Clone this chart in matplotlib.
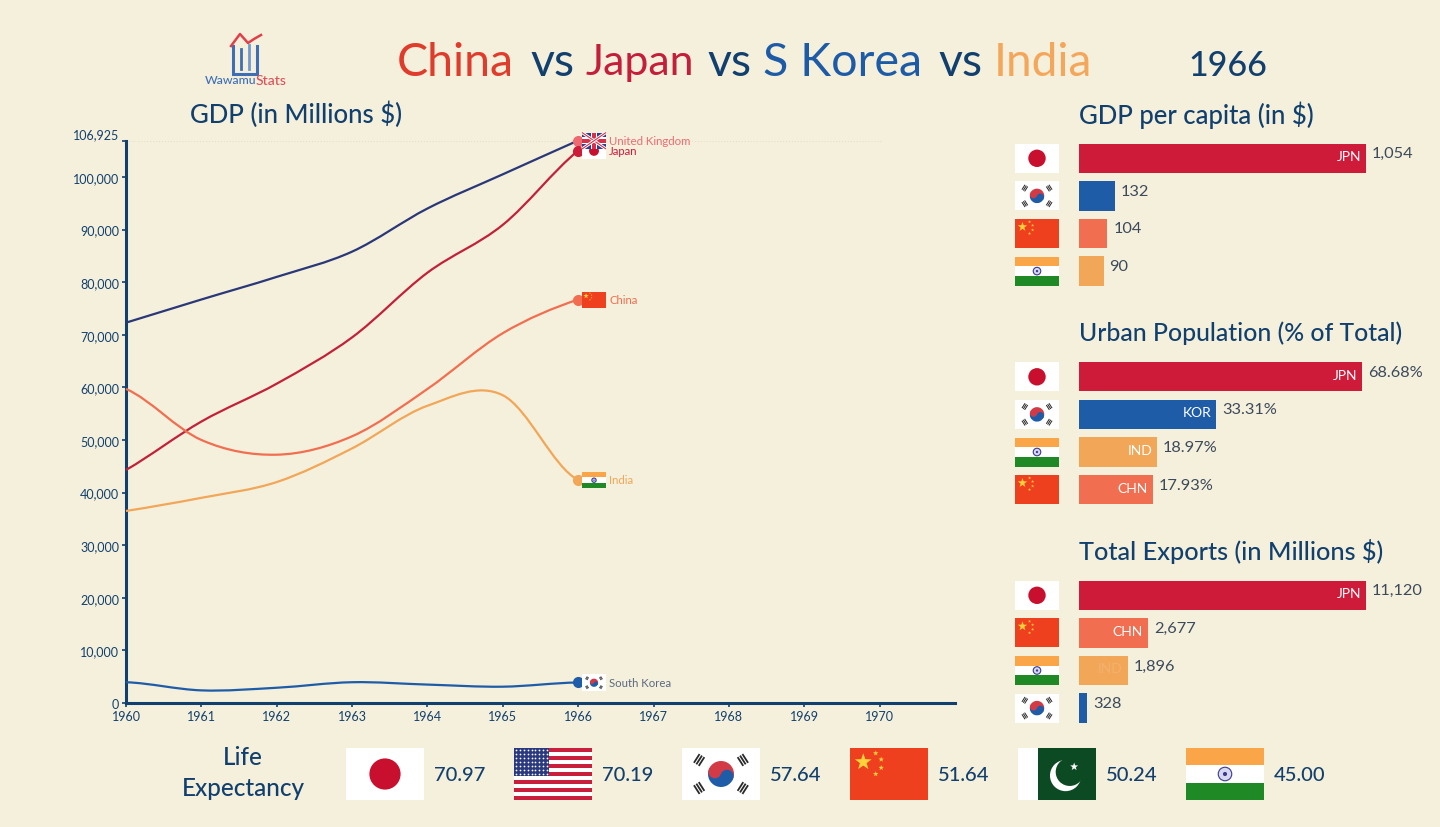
import matplotlib
matplotlib.use("Agg")
import matplotlib.pyplot as plt
from matplotlib.path import Path
from matplotlib.patches import PathPatch, Rectangle, Circle, Wedge, Polygon
import numpy as np

plt.rcParams["font.family"] = ["Lato", "DejaVu Sans"]

BG = "#F5F0DC"
NAVY = "#12406E"
TEXT = "#3C4A5C"

years = [1960, 1961, 1962, 1963, 1964, 1965, 1966]
uk_gdp = [72300, 76700, 81000, 85800, 94000, 100500, 106925]
japan_gdp = [44300, 53500, 60700, 69500, 81800, 90900, 105000]
china_gdp = [59700, 50000, 47200, 50700, 59700, 70300, 76700]
india_gdp = [36500, 39000, 42000, 48400, 56500, 58500, 42400]
korea_gdp = [3950, 2400, 2900, 3950, 3500, 3100, 3900]

x_ticks = [1960, 1961, 1962, 1963, 1964, 1965, 1966, 1967, 1968, 1969, 1970]
y_ticks = [0, 10000, 20000, 30000, 40000, 50000, 60000, 70000, 80000, 90000, 100000, 106925]

pc_codes = ["JPN", "KOR", "CHN", "IND"]
pc_vals = [1054, 132, 104, 90]
pc_text = ["1,054", "132", "104", "90"]
pc_inner = [1, 0, 0, 0]

urban_codes = ["JPN", "KOR", "IND", "CHN"]
urban_vals = [68.68, 33.31, 18.97, 17.93]
urban_text = ["68.68%", "33.31%", "18.97%", "17.93%"]
urban_inner = [1, 1, 1, 1]

exp_codes = ["JPN", "CHN", "IND", "KOR"]
exp_vals = [11120, 2677, 1896, 328]
exp_text = ["11,120", "2,677", "1,896", "328"]
exp_inner = [1, 1, 0.12, 0]

life_codes = ["JPN", "USA", "KOR", "CHN", "PAK", "IND"]
life_vals = ["70.97", "70.19", "57.64", "51.64", "50.24", "45.00"]

colors = {"JPN": "#CF1B3A", "KOR": "#1F5CA8", "CHN": "#F26E50", "IND": "#F2A658", "GBR": "#2A3778"}

fig = plt.figure(figsize=(14.4, 8.28), dpi=100, facecolor=BG)


def axes_px(left, top, right, bottom):
    return fig.add_axes([left / 1440, 1 - bottom / 828, (right - left) / 1440, (bottom - top) / 828])


# main chart
ax = axes_px(126, 141.5, 955, 704)
ax.set_facecolor("none")
ax.set_xlim(1960, 1971)
ax.set_ylim(0, 106925)


def end_slope(s, t):
    # slope at a line end, flattened when the next segment differs a lot
    if s * t <= 0:
        return 0
    return s * min(s / t, t / s)


def smooth_line(xs, ys, color):
    # bezier segments through the points
    n = len(xs)
    slopes = [0.0] * n
    for i in range(1, n - 1):
        slopes[i] = (ys[i + 1] - ys[i - 1]) / 2
    slopes[0] = end_slope(ys[1] - ys[0], slopes[1])
    slopes[-1] = end_slope(ys[-1] - ys[-2], slopes[-2])
    verts = [(xs[0], ys[0])]
    codes = [Path.MOVETO]
    for i in range(n - 1):
        verts += [(xs[i] + 1 / 3, ys[i] + slopes[i] / 3), (xs[i + 1] - 1 / 3, ys[i + 1] - slopes[i + 1] / 3),
                  (xs[i + 1], ys[i + 1])]
        codes += [Path.CURVE4, Path.CURVE4, Path.CURVE4]
    ax.add_patch(PathPatch(Path(verts, codes), fc="none", ec=color, lw=1.6, clip_on=False, zorder=3))


series = [
    (uk_gdp, colors["GBR"], "#EE6A72", "United Kingdom", "GBR"),
    (japan_gdp, "#C2213A", "#CF1B3A", "Japan", "JPN"),
    (china_gdp, colors["CHN"], colors["CHN"], "China", "CHN"),
    (india_gdp, colors["IND"], colors["IND"], "India", "IND"),
    (korea_gdp, colors["KOR"], colors["KOR"], "South Korea", "KOR"),
]
for vals, col, dot, name, code in series:
    smooth_line(years, vals, col)
    ax.plot(years[-1], vals[-1], "o", color=dot, ms=7, clip_on=False, zorder=4)
    ax.annotate(name, xy=(years[-1], vals[-1]), xytext=(31, 0), textcoords="offset pixels",
                fontsize=8.2, color=dot if code != "KOR" else "#5A6A80", va="center", zorder=6)

ax.axhline(106925, xmax=0.911, color="#E4DFC8", lw=0.8, ls=":", zorder=1)
for s in ["top", "right"]:
    ax.spines[s].set_visible(False)
for s in ["left", "bottom"]:
    ax.spines[s].set_color(NAVY)
    ax.spines[s].set_linewidth(2.2)
ax.set_xticks(x_ticks)
ax.set_yticks(y_ticks)
ax.set_yticklabels([f"{v:,}" for v in y_ticks])
ax.tick_params(axis="both", colors=NAVY, length=3, width=1.2, labelsize=9, labelcolor=NAVY, pad=2)
ax.get_yticklabels()[-1].set_va("bottom")


# bar panels
def bar_panel(top, codes, vals, texts, inner, title, title_y, title_size):
    a = axes_px(1079, top, 1440, top + 150.4)
    a.set_facecolor("none")
    a.axis("off")
    a.set_xlim(0, vals[0] * 361 / (287 if vals[0] != 68.68 else 283))
    a.set_ylim(3.5, -0.5)
    pos = np.arange(len(vals))
    a.barh(pos, vals, height=0.78, color=[colors[c] for c in codes])
    for i in pos:
        a.annotate(texts[i], xy=(vals[i], i), xytext=(6, 5), textcoords="offset pixels",
                   fontsize=11.8, color=TEXT, va="center")
        if inner[i] > 0:
            a.annotate(codes[i], xy=(vals[i], i), xytext=(-5, 2), textcoords="offset pixels", ha="right",
                       fontsize=10, color="white", alpha=inner[i], va="center")
    fig.text(1079 / 1440, 1 - title_y / 828, title, fontsize=title_size, color=NAVY, va="center", fontweight="medium")


panel_tops = [140.5, 359, 577.5]
bar_panel(panel_tops[0], pc_codes, pc_vals, pc_text, pc_inner, "GDP per capita (in $)", 115, 18.5)
bar_panel(panel_tops[1], urban_codes, urban_vals, urban_text, urban_inner, "Urban Population (% of Total)", 333, 17.8)
bar_panel(panel_tops[2], exp_codes, exp_vals, exp_text, exp_inner, "Total Exports (in Millions $)", 552, 18.2)

# overlay in picture pixels, for flags and logo
ov = fig.add_axes([0, 0, 1, 1], facecolor="none")
ov.set_xlim(0, 1440)
ov.set_ylim(828, 0)
ov.axis("off")


def star(cx, cy, r, col):
    t = np.arange(10) * np.pi / 5 - np.pi / 2
    rr = np.where(np.arange(10) % 2 == 0, r, r * 0.4)
    ov.add_patch(Polygon(np.c_[cx + rr * np.cos(t), cy + rr * np.sin(t)], fc=col, ec="none"))


def flag(code, x, y, w, h):
    cx, cy = x + w / 2, y + h / 2
    rect = lambda a, b, c, d, col: ov.add_patch(Rectangle((a, b), c, d, fc=col, ec="none"))
    if code == "JPN":
        rect(x, y, w, h, "white")
        ov.add_patch(Circle((cx, cy), h * 0.3, fc="#C8102E", ec="none"))
    elif code == "CHN":
        rect(x, y, w, h, "#EE3F1E")
        star(x + w * 0.17, y + h * 0.27, h * 0.17, "#FFD23C")
        for dx, dy in [(0.33, 0.1), (0.4, 0.22), (0.4, 0.38), (0.33, 0.5)]:
            star(x + w * dx, y + h * dy, h * 0.055, "#FFD23C")
    elif code == "IND":
        rect(x, y, w, h / 3, "#F9A548")
        rect(x, y + h / 3, w, h / 3, "white")
        rect(x, y + 2 * h / 3, w, h / 3, "#1F8A25")
        ov.add_patch(Circle((cx, cy), h * 0.13, fc="#D8D8F0", ec="#3A3A90", lw=0.8))
        ov.add_patch(Circle((cx, cy), h * 0.04, fc="#3A3A90", ec="none"))
    elif code == "KOR":
        rect(x, y, w, h, "white")
        r = h * 0.25
        tilt = 20
        dx, dy = r / 2 * np.cos(np.radians(tilt)), r / 2 * np.sin(np.radians(tilt))
        ov.add_patch(Wedge((cx, cy), r, 180 + tilt, 360 + tilt, fc="#D23A46", ec="none"))
        ov.add_patch(Wedge((cx, cy), r, tilt, 180 + tilt, fc="#1F5CA8", ec="none"))
        ov.add_patch(Circle((cx - dx, cy - dy), r / 2, fc="#D23A46", ec="none"))
        ov.add_patch(Circle((cx + dx, cy + dy), r / 2, fc="#1F5CA8", ec="none"))
        for sx in (-1, 1):
            for sy in (-1, 1):
                bx, by = cx + sx * h * 0.42, cy + sy * h * 0.27
                ang = np.arctan2(sy * h * 0.27, sx * h * 0.42)
                for k in (-1, 0, 1):
                    ox, oy = k * h * 0.055 * np.cos(ang), k * h * 0.055 * np.sin(ang)
                    ln = h * 0.1
                    ov.plot([bx + ox - ln * np.sin(ang), bx + ox + ln * np.sin(ang)],
                            [by + oy + ln * np.cos(ang), by + oy - ln * np.cos(ang)],
                            color="#2A2A2A", lw=max(h * 0.025, 0.5), solid_capstyle="butt")
    elif code == "USA":
        sh = h / 13
        for i in range(13):
            rect(x, y + i * sh, w, sh, "#C8203C" if i % 2 == 0 else "white")
        rect(x, y, w * 0.45, sh * 7, "#2B3A7E")
        gx, gy = np.meshgrid(np.linspace(x + 2, x + w * 0.45 - 2, 9), np.linspace(y + 2, y + sh * 7 - 2, 7))
        ov.scatter(gx.ravel(), gy.ravel(), s=1.6, c="white", linewidths=0)
    elif code == "PAK":
        rect(x, y, w * 0.25, h, "white")
        rect(x + w * 0.25, y, w * 0.75, h, "#0B4A23")
        mx, my = x + w * 0.61, y + h * 0.53
        ov.add_patch(Circle((mx, my), h * 0.3, fc="white", ec="none"))
        ov.add_patch(Circle((mx + h * 0.08, my - h * 0.07), h * 0.27, fc="#0B4A23", ec="none"))
        star(x + w * 0.72, y + h * 0.36, h * 0.08, "white")
    elif code == "GBR":
        rect(x, y, w, h, "#2A3F8E")
        for a, b in [((x, y), (x + w, y + h)), ((x, y + h), (x + w, y))]:
            ov.plot([a[0], b[0]], [a[1], b[1]], color="white", lw=2.2, solid_capstyle="butt")
            ov.plot([a[0], b[0]], [a[1], b[1]], color="#D8304A", lw=0.8, solid_capstyle="butt")
        rect(x, cy - h * 0.2, w, h * 0.4, "white")
        rect(cx - h * 0.2, y, h * 0.4, h, "white")
        rect(x, cy - h * 0.11, w, h * 0.22, "#D8304A")
        rect(cx - h * 0.11, y, h * 0.22, h, "#D8304A")


# flags next to line ends, placed from the axis values
to_px = lambda v: 704 - (704 - 141.5) * v / 106925
for vals, col, dot, name, code in series[::-1]:
    flag(code, 582, to_px(vals[-1]) - 8, 24, 16.5)

# flags next to the bars
for top, codes in zip(panel_tops, [pc_codes, urban_codes, exp_codes]):
    for i, c in enumerate(codes):
        flag(c, 1015, top + 4.3 + 37.6 * i, 44, 29)

# life expectancy row
for i, (c, v) in enumerate(zip(life_codes, life_vals)):
    x0 = 346 + 168 * i
    flag(c, x0, 749, 78, 52)
    ov.text(x0 + 88, 776, v, fontsize=14.5, color=NAVY, va="center", fontweight="medium")
ov.text(243, 773, "Life\nExpectancy", fontsize=17.5, color=NAVY, ha="center", va="center",
        linespacing=1.4, fontweight="medium")

# headings
ov.text(190, 115, "GDP (in Millions $)", fontsize=18.5, color=NAVY, va="center", fontweight="medium")
title_parts = [
    ("China", 397, "#E03C2C", 33.5), ("vs", 530, NAVY, 33.5), ("Japan", 585, "#C41E3A", 31), ("vs", 707, NAVY, 33.5),
    ("S Korea", 763, "#1D5BA6", 33.5), ("vs", 938, NAVY, 33.5), ("India", 994, "#F4A65A", 33),
]
for txt, px, col, size in title_parts:
    ov.text(px, 63, txt, fontsize=size, color=col, va="center")
ov.text(1188, 66, "1966", fontsize=24.5, color=NAVY, va="center", fontweight="medium")

# logo
ov.plot([233, 233, 257, 257], [47, 75, 75, 47], color="#3E6FB5", lw=2.2, solid_joinstyle="miter")
ov.plot([241, 241], [50, 70], color="#3E6FB5", lw=2)
ov.plot([249, 249], [46, 70], color="#6E9AD0", lw=2)
ov.plot([231, 240, 248, 254, 261], [47, 35, 44, 40, 36], color="#E0404A", lw=1.8)
ov.text(205, 81, "Wawamu", fontsize=8.8, color="#3E6FB5", va="center", fontweight="medium")
ov.text(256, 81, "Stats", fontsize=10, color="#E0505A", va="center", fontweight="medium")

fig.savefig("out.png", dpi=100, facecolor=BG)
